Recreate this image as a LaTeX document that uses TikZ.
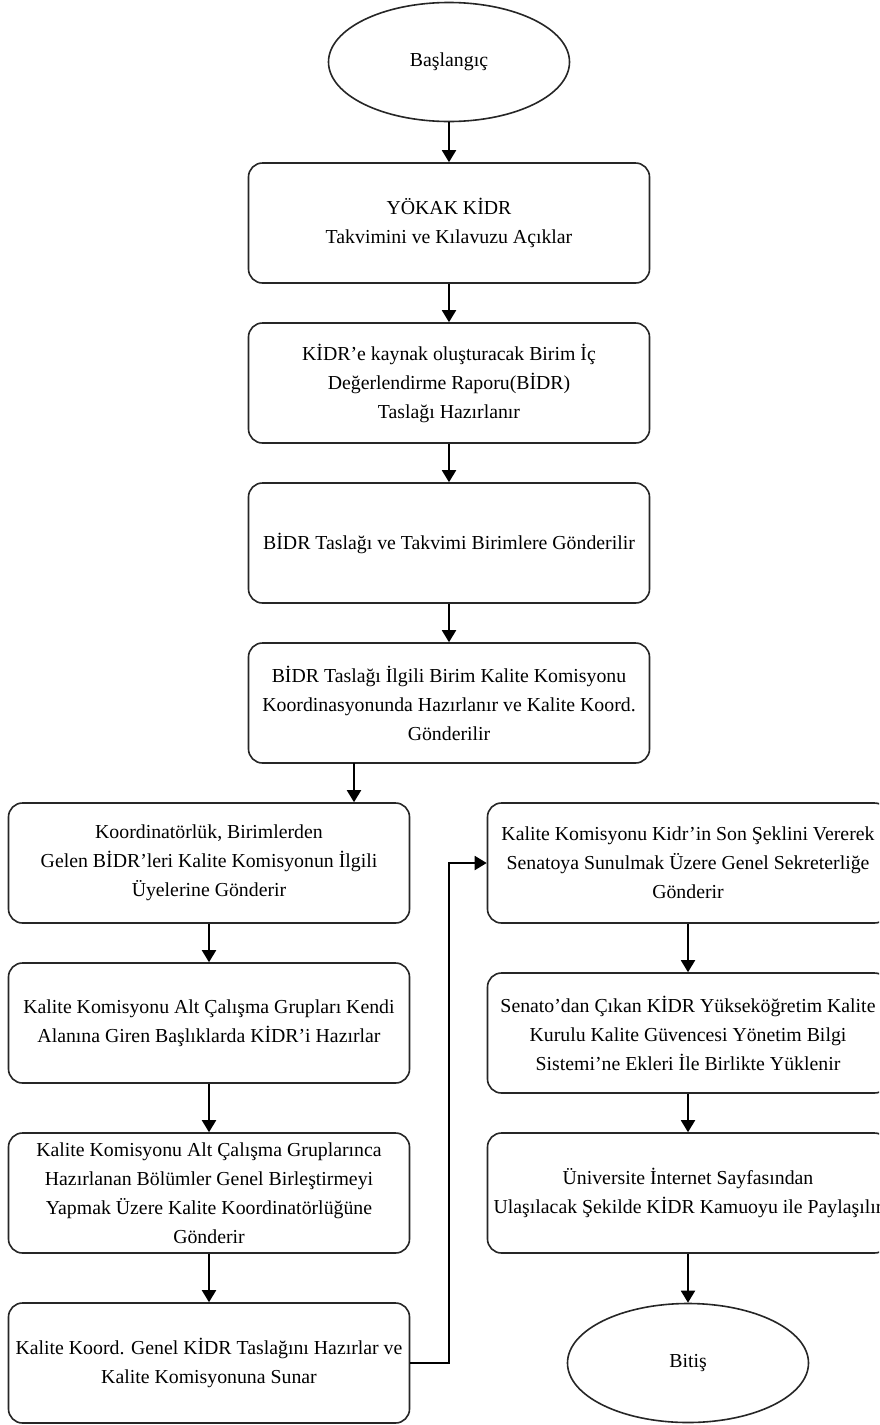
\documentclass[tikz,border=0pt]{standalone}
\usepackage{fontspec}
\setmainfont{Liberation Serif}
\usetikzlibrary{arrows.meta,shapes.geometric}
\begin{document}
\begin{tikzpicture}[x=1pt,y=-1pt,
  box/.style={draw=black!85, line width=1.6pt, rounded corners=14pt, fill=white,
    minimum width=401pt, minimum height=120pt, align=center, inner sep=2pt,
    font=\fontsize{19.8}{29}\selectfont},
  term/.style={draw=black!85, line width=1.6pt, ellipse, fill=white,
    minimum width=241pt, minimum height=119pt, inner sep=0pt,
    font=\fontsize{19.8}{29}\selectfont},
  arr/.style={draw=black, line width=1.9pt, -{Triangle[length=12pt,width=14pt]}}]
\useasboundingbox (0,0) rectangle (879,1425);
\clip (0,0) rectangle (879,1425);
\fill[white] (0,0) rectangle (879,1425);
% top column
\node[term] (S) at (449,62) {Başlangıç};
\node[box] (B1) at (449,223) {YÖKAK KİDR\\Takvimini ve Kılavuzu Açıklar};
\node[box] (B2) at (449,383) {KİDR’e kaynak oluşturacak Birim İç\\Değerlendirme Raporu(BİDR)\\Taslağı Hazırlanır};
\node[box] (B3) at (449,543) {BİDR Taslağı ve Takvimi Birimlere Gönderilir};
\node[box] (B4) at (449,703) {BİDR Taslağı İlgili Birim Kalite Komisyonu\\Koordinasyonunda Hazırlanır ve Kalite Koord.\\Gönderilir};
% left column
\node[box] (L1) at (209,863) {Koordinatörlük, Birimlerden\\Gelen BİDR’leri Kalite Komisyonun İlgili\\Üyelerine Gönderir};
\node[box] (L2) at (209,1023) {Kalite Komisyonu Alt Çalışma Grupları Kendi\\Alanına Giren Başlıklarda KİDR’i Hazırlar};
\node[box] (L3) at (209,1193) {Kalite Komisyonu Alt Çalışma Gruplarınca\\Hazırlanan Bölümler Genel Birleştirmeyi\\Yapmak Üzere Kalite Koordinatörlüğüne\\Gönderir};
\node[box] (L4) at (209,1363) {Kalite Koord. Genel KİDR Taslağını Hazırlar ve\\Kalite Komisyonuna Sunar};
% right column
\node[box] (R1) at (688,863) {Kalite Komisyonu Kidr’in Son Şeklini Vererek\\Senatoya Sunulmak Üzere Genel Sekreterliğe\\Gönderir};
\node[box] (R2) at (688,1033) {Senato’dan Çıkan KİDR Yükseköğretim Kalite\\Kurulu Kalite Güvencesi Yönetim Bilgi\\Sistemi’ne Ekleri İle Birlikte Yüklenir};
\node[box] (R3) at (688,1193) {Üniversite İnternet Sayfasından\\Ulaşılacak Şekilde KİDR Kamuoyu ile Paylaşılır};
\node[term] (E) at (688,1363) {Bitiş};
% connectors
\draw[arr] (S) -- (B1);
\draw[arr] (B1) -- (B2);
\draw[arr] (B2) -- (B3);
\draw[arr] (B3) -- (B4);
\coordinate (d4) at (354,763);
\draw[arr] (d4) -- (d4 |- L1.north);
\draw[arr] (L1) -- (L2);
\draw[arr] (L2) -- (L3);
\draw[arr] (L3) -- (L4);
\coordinate (j) at (449,1363);
\draw[arr] (L4.east) -- (j) |- (R1.west);
\draw[arr] (R1) -- (R2);
\draw[arr] (R2) -- (R3);
\draw[arr] (R3) -- (E);
\end{tikzpicture}
\end{document}
